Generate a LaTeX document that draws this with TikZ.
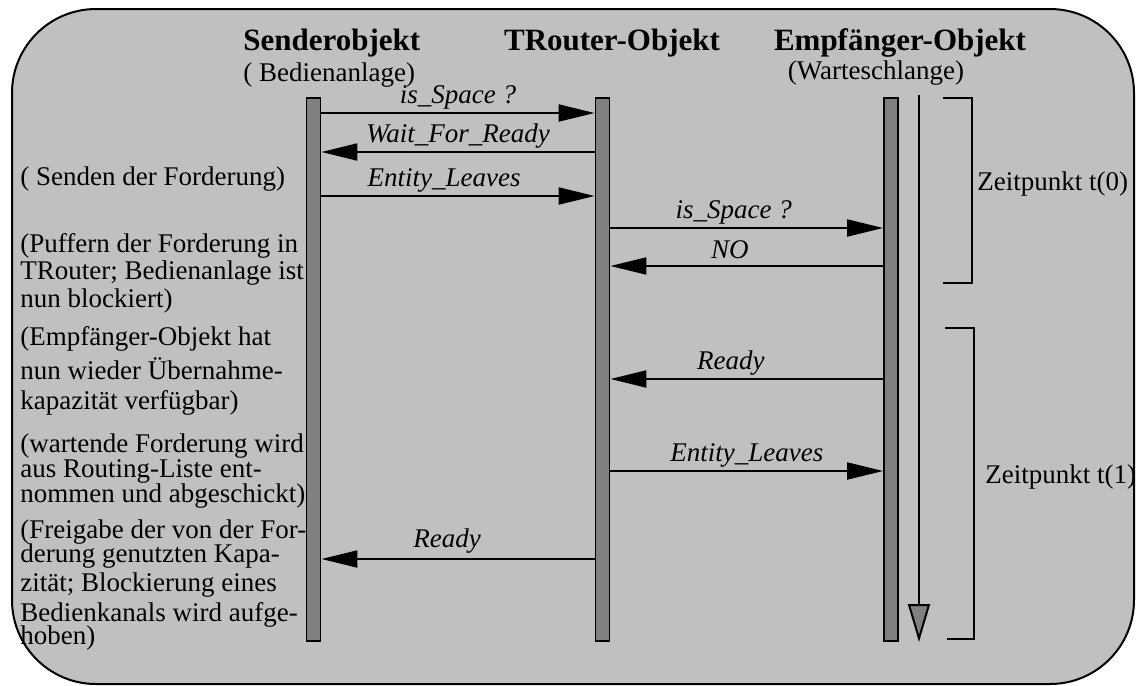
\documentclass[tikz,border=0pt]{standalone}
\usepackage{fontspec}
\setmainfont{Liberation Serif}
\usetikzlibrary{arrows.meta}

\definecolor{panelgray}{HTML}{C0C0C0}
\definecolor{bargray}{HTML}{808080}

\tikzset{
  lifebar/.style={draw, line width=0.9pt, fill=bargray, minimum width=7pt, minimum height=271.6pt, inner sep=0pt},
  msg/.style={line width=1pt, -{Triangle[length=18pt,width=8.5pt]}},
  msglabel/.style={anchor=base, yshift=5pt, inner sep=0pt, font=\fontsize{13.5}{15}\selectfont\itshape},
  head/.style={anchor=base, inner sep=0pt, font=\fontsize{15.5}{17}\selectfont\bfseries},
  sub/.style={anchor=base, inner sep=0pt, font=\fontsize{13.5}{15}\selectfont},
  note/.style={anchor=base west, inner sep=0pt, align=left, font=\fontsize{13.5}{12.5}\selectfont},
  bracket/.style={line width=1pt},
}

\begin{document}
\begin{tikzpicture}[x=0.5pt,y=-0.5pt]
  \useasboundingbox (0,0) rectangle (1137,686);

  % Draw the panel
  \draw[line width=1pt, fill=panelgray, rounded corners=42pt] (12,9) rectangle (1134,684);

  % Object headings
  \node[head, anchor=base west] (sndhead) at (243,50) {Senderobjekt};
  \node[sub, anchor=base west] (sndsub) at (243,81) {( Bedienanlage)};
  \node[head] (rtrhead) at (612,50) {TRouter-Objekt};
  \node[head] (emphead) at (900,50) {Empfänger-Objekt};
  \node[sub] (empsub) at (876,79) {(Warteschlange)};

  % Draw the lifelines
  \node[lifebar] (snd) at (313.5,369.5) {};
  \node[lifebar] (rtr) at (602.5,369.5) {};
  \node[lifebar] (emp) at (891,369.5) {};

  % Messages between sender and router
  \draw[msg] (snd.east |- 0,113) -- node[msglabel] {is\_Space ?} (rtr.west |- 0,113);
  \draw[msg] (rtr.west |- 0,152) -- node[msglabel] {Wait\_For\_Ready} (snd.east |- 0,152);
  \draw[msg] (snd.east |- 0,196) -- node[msglabel, xshift=-7pt] {Entity\_Leaves} (rtr.west |- 0,196);

  % Messages between router and receiver
  \draw[msg] (rtr.east |- 0,228) -- node[msglabel, xshift=-6.5pt] {is\_Space ?} (emp.west |- 0,228);
  \draw[msg] (emp.west |- 0,266) -- node[msglabel, xshift=-8.5pt, yshift=-1pt] {NO} (rtr.east |- 0,266);
  \draw[msg] (emp.west |- 0,379) -- node[msglabel, xshift=-8pt] {Ready} (rtr.east |- 0,379);
  \draw[msg] (rtr.east |- 0,471) -- node[msglabel] {Entity\_Leaves} (emp.west |- 0,471);
  \draw[msg] (rtr.west |- 0,559) -- node[msglabel, xshift=-5.5pt, yshift=1pt] {Ready} (snd.east |- 0,559);

  % Time axis
  \coordinate (tstart) at (919,95);
  \coordinate (tend) at (919,642);
  \draw[line width=1pt, -{Triangle[length=19pt,width=11pt,fill=bargray]}] (tstart) -- (tend);

  % Time brackets
  \draw[bracket] (943,98) -| (972,283) -- (943,283);
  \draw[bracket] (945,328) -| (974,639) -- (947,639);
  \node[sub, anchor=base west] (tzero) at (977,190) {Zeitpunkt t(0)};
  \node[sub, anchor=base west] (tone) at (985,483) {Zeitpunkt t(1)};

  % Notes on the left (anchored at the last line)
  \node[note] (n1) at (20,185) {( Senden der Forderung)};
  \node[note] (n2) at (20,307) {(Puffern der Forderung in\\[1.25pt]
    TRouter; Bedienanlage ist\\[1.25pt] nun blockiert)};
  \node[note] (n3) at (20,409) {(Empfänger-Objekt hat\\[2.25pt]
    nun wieder Übernahme-\\[2.25pt] kapazität verfügbar)};
  \node[note] (n4) at (20,502) {(wartende Forderung wird\\
    aus Routing-Liste ent-\\ nommen und abgeschickt)};
  \node[note] (n5) at (20,644) {(Freigabe der von der For-\\[-0.5pt]
    derung genutzten Kapa-\\[2pt] zität; Blockierung eines\\[2.5pt]
    Bedienkanals wird aufge-\\[-1pt] hoben)};

\end{tikzpicture}
\end{document}
